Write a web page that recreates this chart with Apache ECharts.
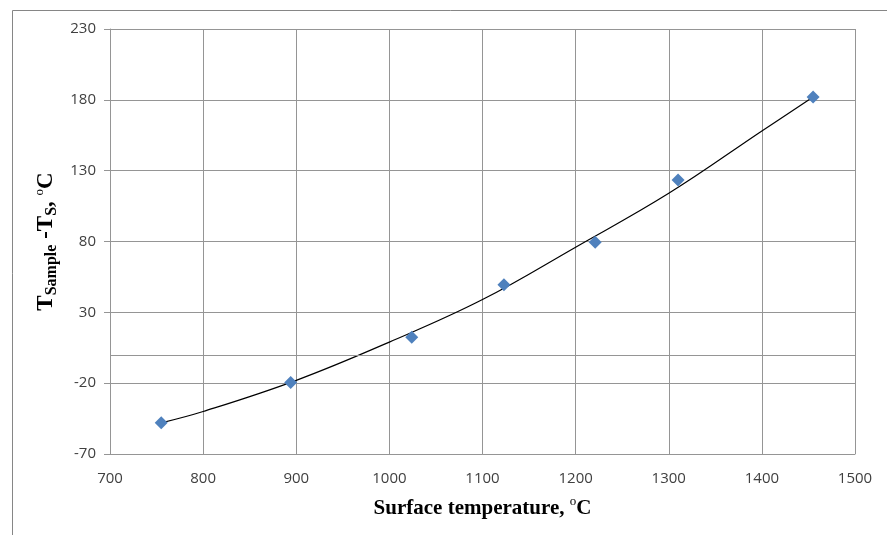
<!DOCTYPE html>
<html>
<head>
<meta charset="utf-8">
<script src="https://cdn.jsdelivr.net/npm/echarts@6/dist/echarts.min.js"></script>
<style>
  html, body { margin: 0; padding: 0; background: #fff; }
  #chart { width: 887px; height: 535px; }
</style>
</head>
<body>
<div id="chart"></div>
<script>
// measured points (surface temperature, difference)
var surfTemp = [755, 894, 1024, 1123, 1221, 1310, 1455];
var diffTemp = [-48, -19.5, 12.5, 49.5, 79.5, 123.5, 182];

// trend curve
var curveX = [755, 800, 900, 1000, 1100, 1200, 1300, 1400, 1455];
var curveY = [-48, -40, -18, 9, 39, 76, 114, 158, 182];

var xTicks = [700, 800, 900, 1000, 1100, 1200, 1300, 1400, 1500];
var yTicks = [-70, -20, 30, 80, 130, 180, 230];

var chart = echarts.init(document.getElementById('chart'));

var labelFont = { color: '#404040', fontSize: 15, fontFamily: 'Open Sans' };
var gridLine = { show: true, lineStyle: { color: '#959595', width: 1 } };

var option = {
  animation: false,
  graphic: [{
    type: 'rect',
    shape: { x: 12.5, y: 10.5, width: 900, height: 600 },
    style: { fill: 'none', stroke: '#868686', lineWidth: 1 },
    silent: true
  }],
  grid: { left: 110, top: 29, right: 32, bottom: 81 },
  xAxis: {
    type: 'value',
    min: xTicks[0],
    max: xTicks[xTicks.length - 1],
    interval: 100,
    name: '{a|Surface temperature, }{s|o}{a|C}',
    nameLocation: 'middle',
    nameGap: 41,
    nameTextStyle: {
      rich: {
        a: { fontFamily: 'Liberation Serif', fontWeight: 'bold', fontSize: 21, color: '#000', verticalAlign: 'bottom', lineHeight: 24 },
        s: { fontFamily: 'Liberation Serif', fontSize: 13, color: '#000', verticalAlign: 'top', lineHeight: 24 }
      }
    },
    axisLine: { onZero: false, lineStyle: { color: '#959595' } },
    axisTick: { show: false },
    axisLabel: Object.assign({ margin: 17, formatter: function (v) { return String(v); } }, labelFont),
    splitLine: gridLine
  },
  yAxis: {
    type: 'value',
    min: yTicks[0],
    max: yTicks[yTicks.length - 1],
    interval: 50,
    name: '{t|T}{b|Sample}{t| -T}{b|S}{t|, }{s|o}{t|C}',
    nameLocation: 'middle',
    nameRotate: 90,
    nameGap: 50,
    nameTextStyle: {
      rich: {
        t: { fontFamily: 'Liberation Serif', fontWeight: 'bold', fontSize: 23, color: '#000', verticalAlign: 'middle', lineHeight: 26 },
        b: { fontFamily: 'Liberation Serif', fontWeight: 'bold', fontSize: 16, color: '#000', verticalAlign: 'bottom', lineHeight: 26 },
        s: { fontFamily: 'Liberation Serif', fontSize: 13, color: '#000', verticalAlign: 'top', lineHeight: 26 }
      }
    },
    axisLine: { show: true, lineStyle: { color: '#959595' } },
    axisTick: { show: true, length: 6, lineStyle: { color: '#959595' } },
    axisLabel: Object.assign({ margin: 14, formatter: function (v) { return String(v); } }, labelFont),
    splitLine: gridLine
  },
  series: [{
    type: 'line',
    data: curveX.map(function (x, i) { return [x, curveY[i]]; }),
    smooth: 0.4,
    showSymbol: false,
    lineStyle: { color: '#000', width: 1.2 },
    z: 2,
    markLine: {
      silent: true,
      symbol: 'none',
      label: { show: false },
      lineStyle: { color: '#959595', width: 1, type: 'solid' },
      data: [{ yAxis: 0 }]
    }
  }, {
    type: 'scatter',
    data: surfTemp.map(function (x, i) { return [x, diffTemp[i]]; }),
    symbol: 'diamond',
    symbolSize: 13,
    itemStyle: { color: '#4F81BD', opacity: 1 },
    z: 3
  }]
};

chart.setOption(option);
</script>
</body>
</html>
